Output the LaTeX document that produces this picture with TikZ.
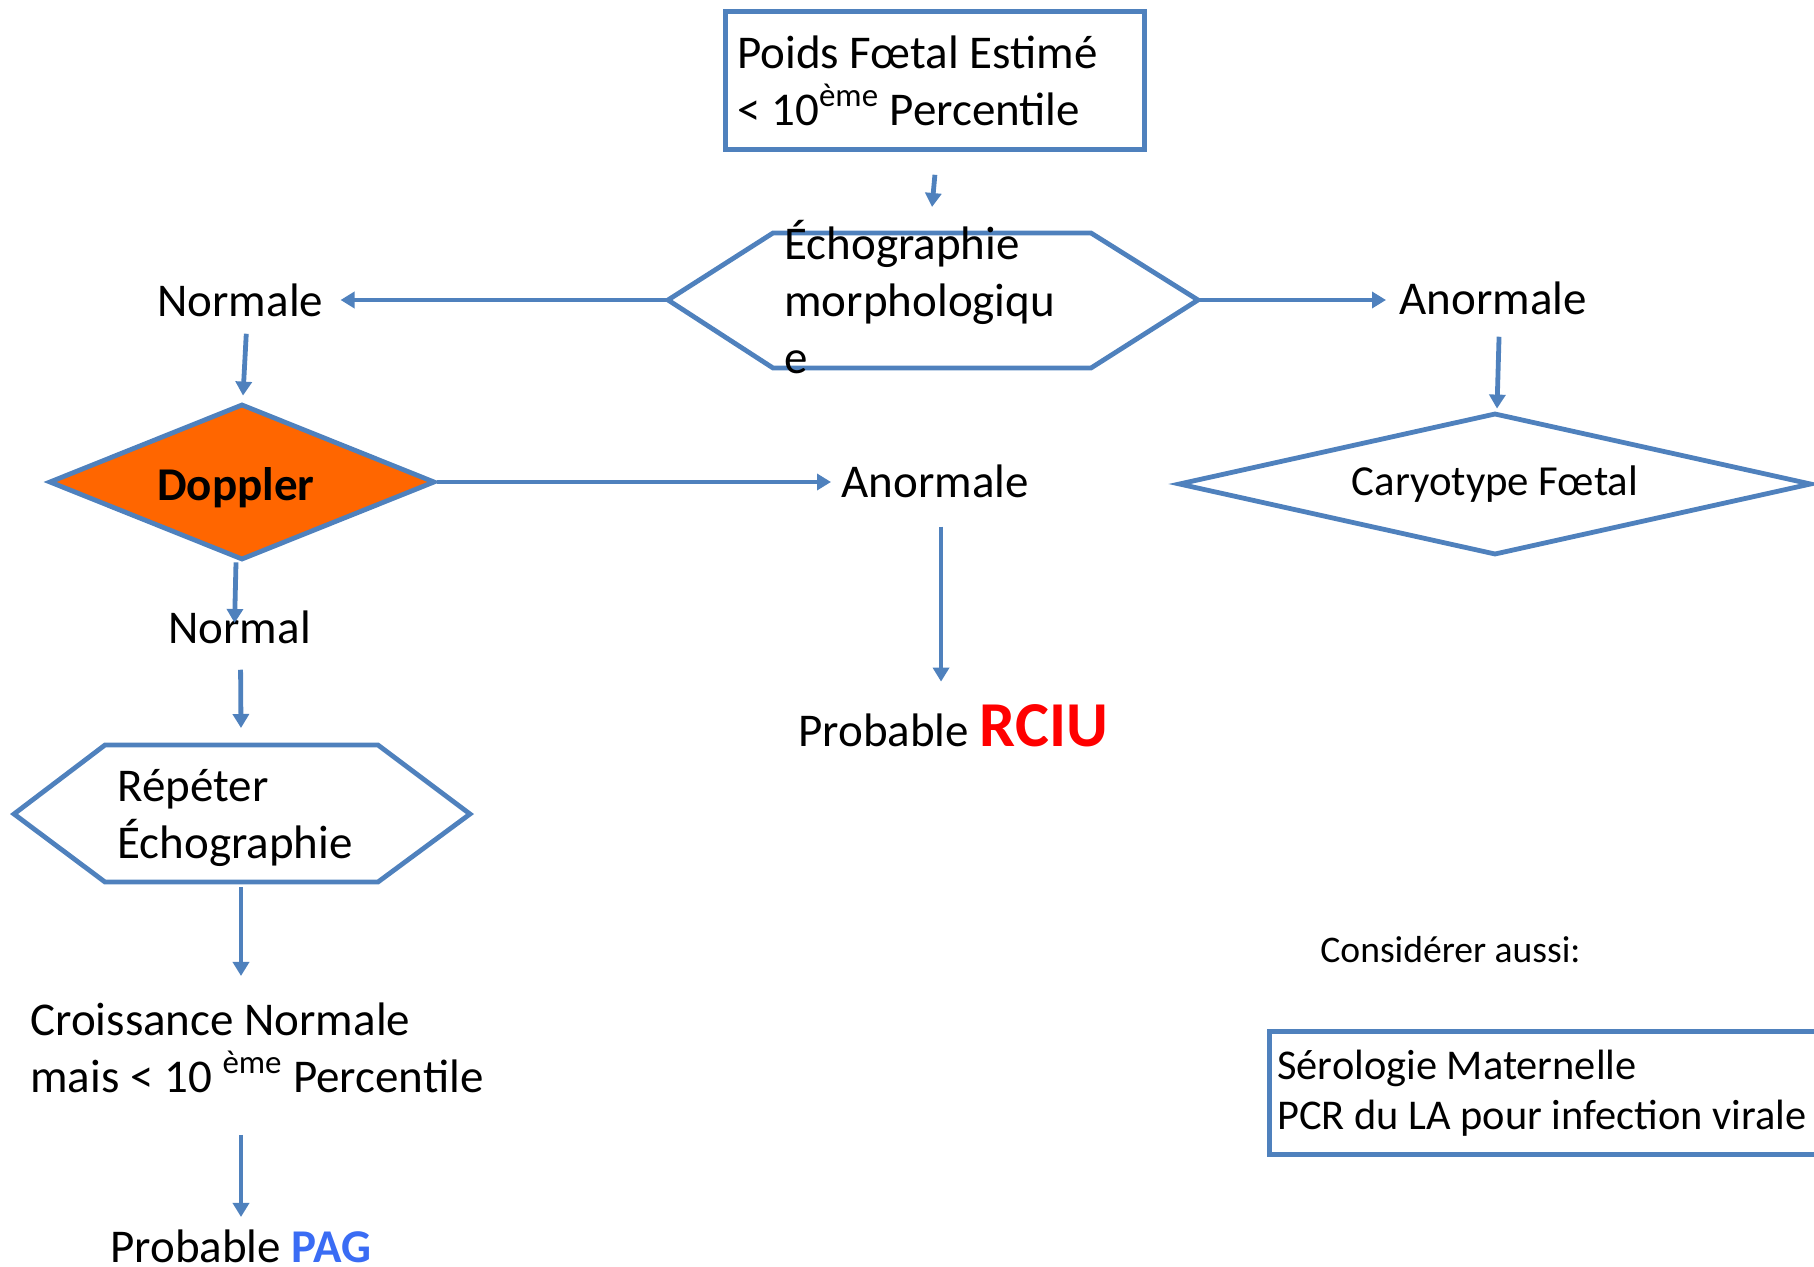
\documentclass[tikz,border=0pt]{standalone}
\usepackage{fontspec}
\setmainfont{Carlito}
\usepackage{xcolor}
\usetikzlibrary{shapes.geometric,arrows.meta,calc,positioning}

\definecolor{lineblue}{HTML}{4F81BD}
\definecolor{dopplerorange}{HTML}{FF6600}
\definecolor{rciured}{HTML}{FF0000}
\definecolor{pagblue}{HTML}{3A6CF4}
\newcommand{\flowfont}{\fontsize{23.5}{28.5}\selectfont}

\begin{document}
\begin{tikzpicture}[
    x=0.5pt, y=-0.5pt,
    txt/.style={inner sep=0pt, font=\flowfont},
    box/.style={rectangle, draw=lineblue, line width=2.4pt, align=flush left, font=\flowfont},
    decision/.style={diamond, draw=lineblue, line width=2.4pt, inner sep=0pt, font=\flowfont},
    hexline/.style={draw=lineblue, line width=2.4pt, line join=miter},
    arr/.style={draw=lineblue, line width=2.4pt, -{Triangle[length=7pt,width=8pt]}}
]
    \useasboundingbox (0,0) rectangle (1814,1267);

    % Poids foetal
    \node[box, anchor=north west, minimum width=209.5pt, minimum height=69pt,
          text width=197.5pt, inner xsep=6pt, inner ysep=0pt] (pfe) at (723,9)
        {Poids Fœtal Estimé\\< 10\textsuperscript{ème} Percentile};

    % Echographie morphologique
    \coordinate (echoW) at (668,300);
    \coordinate (echoE) at (1198,300);
    \coordinate (echoN) at (932,233);
    \draw[hexline] (echoW) -- (773,233) -- (1091,233) -- (echoE) -- (1091,368) -- (773,368) -- cycle;
    \node[txt, anchor=base west, align=left] (echo) at (784,374) {Échographie\\morphologiqu\\e};

    \node[txt, anchor=base west] (normale) at (157,317) {Normale};
    \node[txt, anchor=base west] (anorm1) at (1399,315) {Anormale};

    % Doppler
    \node[decision, fill=dopplerorange, minimum width=193pt, minimum height=78pt, aspect=2.47,
          font=\flowfont\bfseries] (doppler) at (242,482)
        {\raisebox{-3pt}[\height][\depth]{Doppler}\hspace*{6pt}};
    \node[txt, anchor=base west] (anorm2) at (841,497) {Anormale};
    \node[txt, anchor=base west] (normal) at (168,643) {Normal};
    \node[txt, anchor=base west] (rciu) at (798,746)
        {Probable \textcolor{rciured}{\fontsize{32}{38}\selectfont\bfseries RCIU}};

    % Caryotype
    \node[decision, minimum width=316.5pt, minimum height=71pt, aspect=4.46,
          font=\fontsize{21.4}{26}\selectfont] (caryo) at (1495,484) {Caryotype Fœtal};

    % Repeter echographie
    \coordinate (rptN) at (241,745);
    \coordinate (rptS) at (241,882);
    \draw[hexline] (14,814) -- (105,745) -- (378,745) -- (470,814) -- (378,882) -- (105,882) -- cycle;
    \node[txt, anchor=base west, align=left] (rpt) at (117,858) {Répéter\\Échographie};

    \node[txt, anchor=base west, align=left] (croiss) at (30,1092)
        {Croissance Normale\\mais < 10 \textsuperscript{ème} Percentile};
    \node[txt, anchor=base west] (pag) at (110,1262) {Probable \textcolor{pagblue}{\bfseries PAG}};

    % Considerer aussi
    \node[txt, anchor=base west, font=\fontsize{18.8}{22}\selectfont] (aussi) at (1320,962) {Considérer aussi:};
    \node[box, anchor=north west, minimum width=300pt, minimum height=61.5pt, text width=292pt,
          inner xsep=4pt, inner ysep=0pt, font=\fontsize{21.2}{25}\selectfont] (sero) at (1267,1029)
        {Sérologie Maternelle\\PCR du LA pour infection virale};

    % Arrows
    \draw[arr] ($(pfe.south)+(0,23)$) -- ($(echoN)+(0,-26)$);
    \draw[arr] (echoW) -- ($(echoW -| normale.east)+(17,0)$);
    \draw[arr] (echoE) -- ($(echoE -| anorm1.west)+(-13,0)$);
    \draw[arr] ($(normale.south)+(6,16)$) -- ($(doppler.north)+(1,-6)$);
    \draw[arr] (doppler.east) -- ($(doppler.east -| anorm2.west)+(-10,0)$);
    \draw[arr] ($(doppler.south)+(-6,0)$) -- ($(normal.north)+(-5,13)$);
    \draw[arr] ($(normal.south)+(1,26)$) -- ($(rptN)+(0,-17)$);
    \draw[arr] ($(rptS)+(0,5)$) -- ($(rptS |- croiss.north)+(0,-26)$);
    \draw[arr] ($(croiss.south -| rptS)+(0,42)$) -- ($(pag.north -| rptS)+(0,-12)$);
    \draw[arr] ($(anorm2.south)+(6,29)$) -- ($(anorm2.south |- rciu.north)+(6,-22)$);
    \draw[arr] ($(anorm1.south)+(6,21)$) -- ($(caryo.north)+(2,-2)$);
\end{tikzpicture}
\end{document}
